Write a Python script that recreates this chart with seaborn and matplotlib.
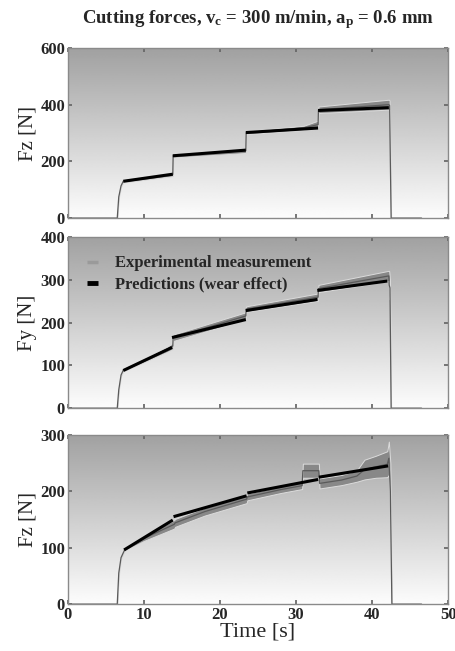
"""
Cutting forces, vc = 300 m/min, ap = 0.6 mm
Measured force band vs. predicted force (wear effect), three components.
"""
import numpy as np
import pandas as pd
import matplotlib
matplotlib.use("Agg")
import matplotlib.pyplot as plt
import seaborn as sns
from matplotlib.lines import Line2D

# ── Data ──────────────────────────────────────────────────
# panel 1 : Fz, stepped depth
t1 = [0, 6.5, 6.7, 7.0, 7.3, 13.8, 13.85, 23.4, 23.45, 31.0, 32.9, 32.95, 42.2, 42.3, 42.5, 46.5]
lo1 = [0, 0, 70, 110, 126, 148, 214, 230, 296, 311, 316, 371, 383, 380, 0, 0]
hi1 = [0, 0, 80, 118, 135, 161, 227, 246, 307, 326, 344, 394, 418, 415, 0, 0]
pt1 = [7.3, 13.8, 13.8, 23.4, 23.4, 32.9, 32.9, 42.2]
pv1 = [130, 155, 220, 240, 302, 318, 380, 390]

# panel 2 : Fy
t2 = [0, 6.5, 6.7, 7.0, 7.3, 13.0, 13.8, 13.85, 23.4, 23.45, 32.9, 32.95, 42.2, 42.25, 42.35, 42.5, 46.5]
lo2 = [0, 0, 40, 75, 86, 131, 138, 157, 207, 225, 251, 271, 297, 255, 262, 0, 0]
hi2 = [0, 0, 46, 80, 92, 143, 152, 172, 224, 238, 268, 288, 321, 320, 300, 0, 0]
pt2 = [7.3, 13.7, 13.7, 23.4, 23.4, 32.8, 32.8, 42.0]
pv2 = [88, 142, 165, 207, 228, 254, 275, 297]

# panel 3 : Fz
t3 = [0, 6.5, 6.7, 7.0, 7.5, 10, 14, 14.1, 18, 23.5, 23.6, 28, 30.8, 30.9, 33.0, 33.1,
      36, 38, 39, 40.5, 42.0, 42.2, 42.4, 42.6, 46.5]
lo3 = [0, 0, 50, 80, 95, 112, 134, 137, 157, 179, 184, 197, 204, 224, 224, 205,
       211, 217, 221, 224, 225, 229, 150, 0, 0]
hi3 = [0, 0, 60, 85, 99, 121, 149, 151, 171, 193, 196, 209, 216, 249, 249, 223,
       229, 237, 256, 263, 271, 288, 250, 0, 0]
pt3 = [7.4, 13.8, 13.9, 23.5, 23.6, 32.9, 33.0, 42.1]
pv3 = [96, 149, 155, 192, 197, 221, 225, 245]

ylabels = ["Fz [N]", "Fy [N]", "Fz [N]"]
ylims = [600, 400, 300]
yticks = [[0, 200, 400, 600], [0, 100, 200, 300, 400], [0, 100, 200, 300]]
xticks = [0, 10, 20, 30, 40, 50]

# ── Style ─────────────────────────────────────────────────
sns.set_theme(style="ticks")
plt.rcParams["font.family"] = ["Liberation Serif", "DejaVu Serif"]
plt.rcParams["mathtext.fontset"] = "custom"
plt.rcParams["mathtext.rm"] = "Liberation Serif:bold"
plt.rcParams["mathtext.it"] = "Liberation Serif:bold"

EXP_C = "#888888"
PRED_C = "black"

fig = plt.figure(figsize=(4.55, 6.51), dpi=100)
boxes = [(0.149, 0.665, 0.836, 0.261),
         (0.149, 0.373, 0.836, 0.263),
         (0.149, 0.072, 0.836, 0.260)]

panels = [(t1, lo1, hi1, pt1, pv1), (t2, lo2, hi2, pt2, pv2), (t3, lo3, hi3, pt3, pv3)]
grad = np.linspace(0.63, 0.99, 256).reshape(-1, 1)

for i, (box, (t, lo, hi, pt, pv)) in enumerate(zip(boxes, panels)):
    ax = fig.add_axes(box)
    ax.imshow(grad, cmap="gray", vmin=0, vmax=1, aspect="auto",
              extent=[0, 1, 0, 1], transform=ax.transAxes, zorder=0)

    exp = pd.DataFrame({"t": t, "lo": lo, "hi": hi})
    exp["mid"] = (exp["lo"] + exp["hi"]) / 2
    ax.fill_between(exp["t"], exp["lo"], exp["hi"], color=EXP_C,
                    edgecolor="#dcdcdc", linewidth=0.7, zorder=2)
    sns.lineplot(data=exp, x="t", y="mid", color="#5a5a5a", lw=0.9,
                 estimator=None, sort=False, ax=ax, zorder=2)

    pred = pd.DataFrame({"t": pt, "f": pv, "seg": np.repeat(np.arange(4), 2)})
    sns.lineplot(data=pred, x="t", y="f", units="seg", estimator=None,
                 color=PRED_C, lw=2.2, solid_capstyle="butt", ax=ax, zorder=3)

    ax.set_xlim(0, 50)
    ax.set_ylim(0, ylims[i])
    ax.set_xticks(xticks)
    ax.set_yticks(yticks[i])
    ax.tick_params(direction="in", top=True, right=True, length=3,
                   color="#666666", labelsize=12, pad=2)
    for lab in ax.get_yticklabels() + ax.get_xticklabels():
        lab.set_fontweight("bold")
    for sp in ax.spines.values():
        sp.set_color("#8a8a8a")
        sp.set_linewidth(1.0)
    ax.set_ylabel(ylabels[i], fontsize=15, labelpad=2)
    if i < 2:
        ax.set_xlabel("")
        ax.set_xticklabels([])
    else:
        ax.set_xlabel("Time [s]", fontsize=16, labelpad=0)

    if i == 1:
        handles = [Line2D([], [], color="#9a9a9a", lw=2.5, solid_capstyle="butt"),
                   Line2D([], [], color="black", lw=3.5, solid_capstyle="butt")]
        ax.legend(handles, ["Experimental measurement", "Predictions (wear effect)"],
                  loc="upper left", frameon=False, handlelength=0.7,
                  handletextpad=1.0, labelspacing=0.3,
                  prop={"family": "Liberation Serif", "weight": "bold", "size": 12},
                  bbox_to_anchor=(0.01, 0.98))

fig.text(0.567, 0.970, r"Cutting forces, v$_\mathrm{c}$ = 300 m/min, a$_\mathrm{p}$ = 0.6 mm",
         ha="center", va="center", fontsize=13.5, fontweight="bold")

fig.savefig("out.png", dpi=100)
plt.close(fig)
